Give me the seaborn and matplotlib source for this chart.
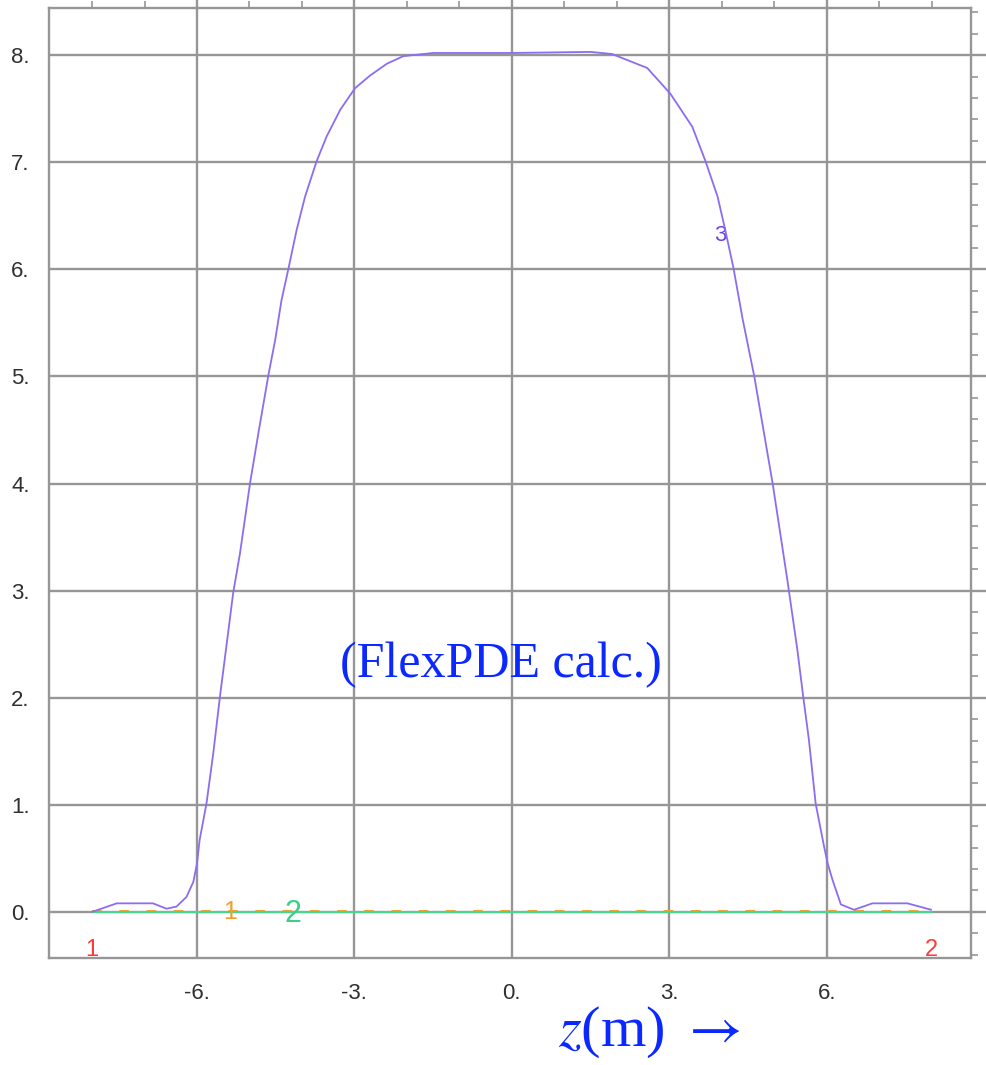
import numpy as np
import pandas as pd
import matplotlib.pyplot as plt
from matplotlib.ticker import MultipleLocator, FormatStrFormatter
import seaborn as sns

# curve 3 (purple)
z3 = [-8.0, -7.53, -6.84, -6.58, -6.39, -6.2, -6.07, -6.0, -5.95, -5.82, -5.69,
      -5.56, -5.44, -5.31, -5.18, -4.99, -4.83, -4.64, -4.51, -4.39, -4.26,
      -4.10, -3.94, -3.72, -3.53, -3.27, -2.99, -2.70, -2.38, -2.07, -1.50,
      0.0, 1.50, 1.91, 2.58, 3.02, 3.44, 3.69, 3.92, 4.07, 4.22, 4.40, 4.62,
      4.97, 5.25, 5.44, 5.55, 5.66, 5.79, 5.95, 6.02, 6.11, 6.27, 6.52, 6.87,
      7.54, 7.99]
v3 = [0.0, 0.08, 0.08, 0.03, 0.05, 0.14, 0.28, 0.45, 0.67, 1.01, 1.48,
      2.02, 2.48, 2.98, 3.35, 4.0, 4.47, 5.01, 5.34, 5.71, 6.0,
      6.37, 6.68, 7.01, 7.24, 7.49, 7.69, 7.81, 7.92, 7.99, 8.02,
      8.02, 8.03, 8.01, 7.88, 7.64, 7.33, 7.01, 6.68, 6.36, 6.02, 5.53, 5.0,
      4.0, 3.1, 2.45, 2.02, 1.61, 1.01, 0.61, 0.45, 0.30, 0.07, 0.02, 0.08,
      0.08, 0.02]

# curves 1 (orange, dashed) and 2 (green), both close to zero
z1 = [-8.0, 8.0]
v1 = [0.012, 0.012]
z2 = [-8.0, 8.0]
v2 = [0.0, 0.0]

xticks = [-6, -3, 0, 3, 6]
yticks = [0, 1, 2, 3, 4, 5, 6, 7, 8]

sns.set_style("white")
plt.rcParams['font.family'] = ['Liberation Sans', 'DejaVu Sans']

fig = plt.figure(figsize=(9.86, 10.65), dpi=100)
ax = fig.add_axes([0.0497, 0.1005, 0.9351, 0.892])

grid_c = '#969696'
for x in xticks:
    ax.axvline(x, color=grid_c, lw=1.7, zorder=0)
for y in yticks:
    ax.axhline(y, color=grid_c, lw=1.7, zorder=0)

sns.lineplot(x=z1, y=v1, ax=ax, color='#f0a030', lw=1.4,
             linestyle=(0, (5, 9)), zorder=2)
sns.lineplot(x=z2, y=v2, ax=ax, color='#45d890', lw=1.4, zorder=3)
sns.lineplot(x=z3, y=v3, ax=ax, color='#8c6cf0', lw=1.3, zorder=4,
             sort=False)

ax.set_xlim(-8.82, 8.75)
ax.set_ylim(-0.43, 8.44)

ax.xaxis.set_major_locator(MultipleLocator(3))
ax.xaxis.set_minor_locator(MultipleLocator(1))
ax.yaxis.set_major_locator(MultipleLocator(1))
ax.yaxis.set_minor_locator(MultipleLocator(0.2))
ax.xaxis.set_major_formatter(FormatStrFormatter('%d.'))
ax.yaxis.set_major_formatter(FormatStrFormatter('%d.'))

ax.tick_params(which='both', direction='out', color=grid_c,
               top=True, right=True, labeltop=False, labelright=False)
ax.tick_params(which='major', length=11, width=1.7, labelsize=16,
               labelcolor='#303030')
ax.tick_params(axis='x', which='major', pad=7)
ax.tick_params(axis='y', which='major', pad=3)
ax.tick_params(which='minor', length=5, width=1.2)
for s in ax.spines.values():
    s.set_color(grid_c)
    s.set_linewidth(1.7)
ax.set_xlabel('')
ax.set_ylabel('')

# curve labels
ax.text(-8.0, -0.36, '1', color='#ff3a3a', fontsize=17, ha='center', va='center')
ax.text(8.0, -0.36, '2', color='#ff3a3a', fontsize=17, ha='center', va='center')
ax.text(3.98, 6.32, '3', color='#6a40e0', fontsize=16, ha='center', va='center')
ax.text(-5.37, 0.0, '1', color='#f0a030', fontsize=18, ha='center', va='center')
ax.text(-4.17, -0.02, '2', color='#3ad088', fontsize=22, ha='center', va='center')

ax.text(-0.2, 2.31, '(FlexPDE calc.)', color='#0a28ff', fontsize=36,
        family='Liberation Serif', ha='center', va='center')
fig.text(0.658, 0.031, r'$z$(m) $\rightarrow$', color='#0a28ff', fontsize=42,
         family='Liberation Serif', ha='center', va='center',
         math_fontfamily='stix')

fig.savefig('out.png', dpi=100)
